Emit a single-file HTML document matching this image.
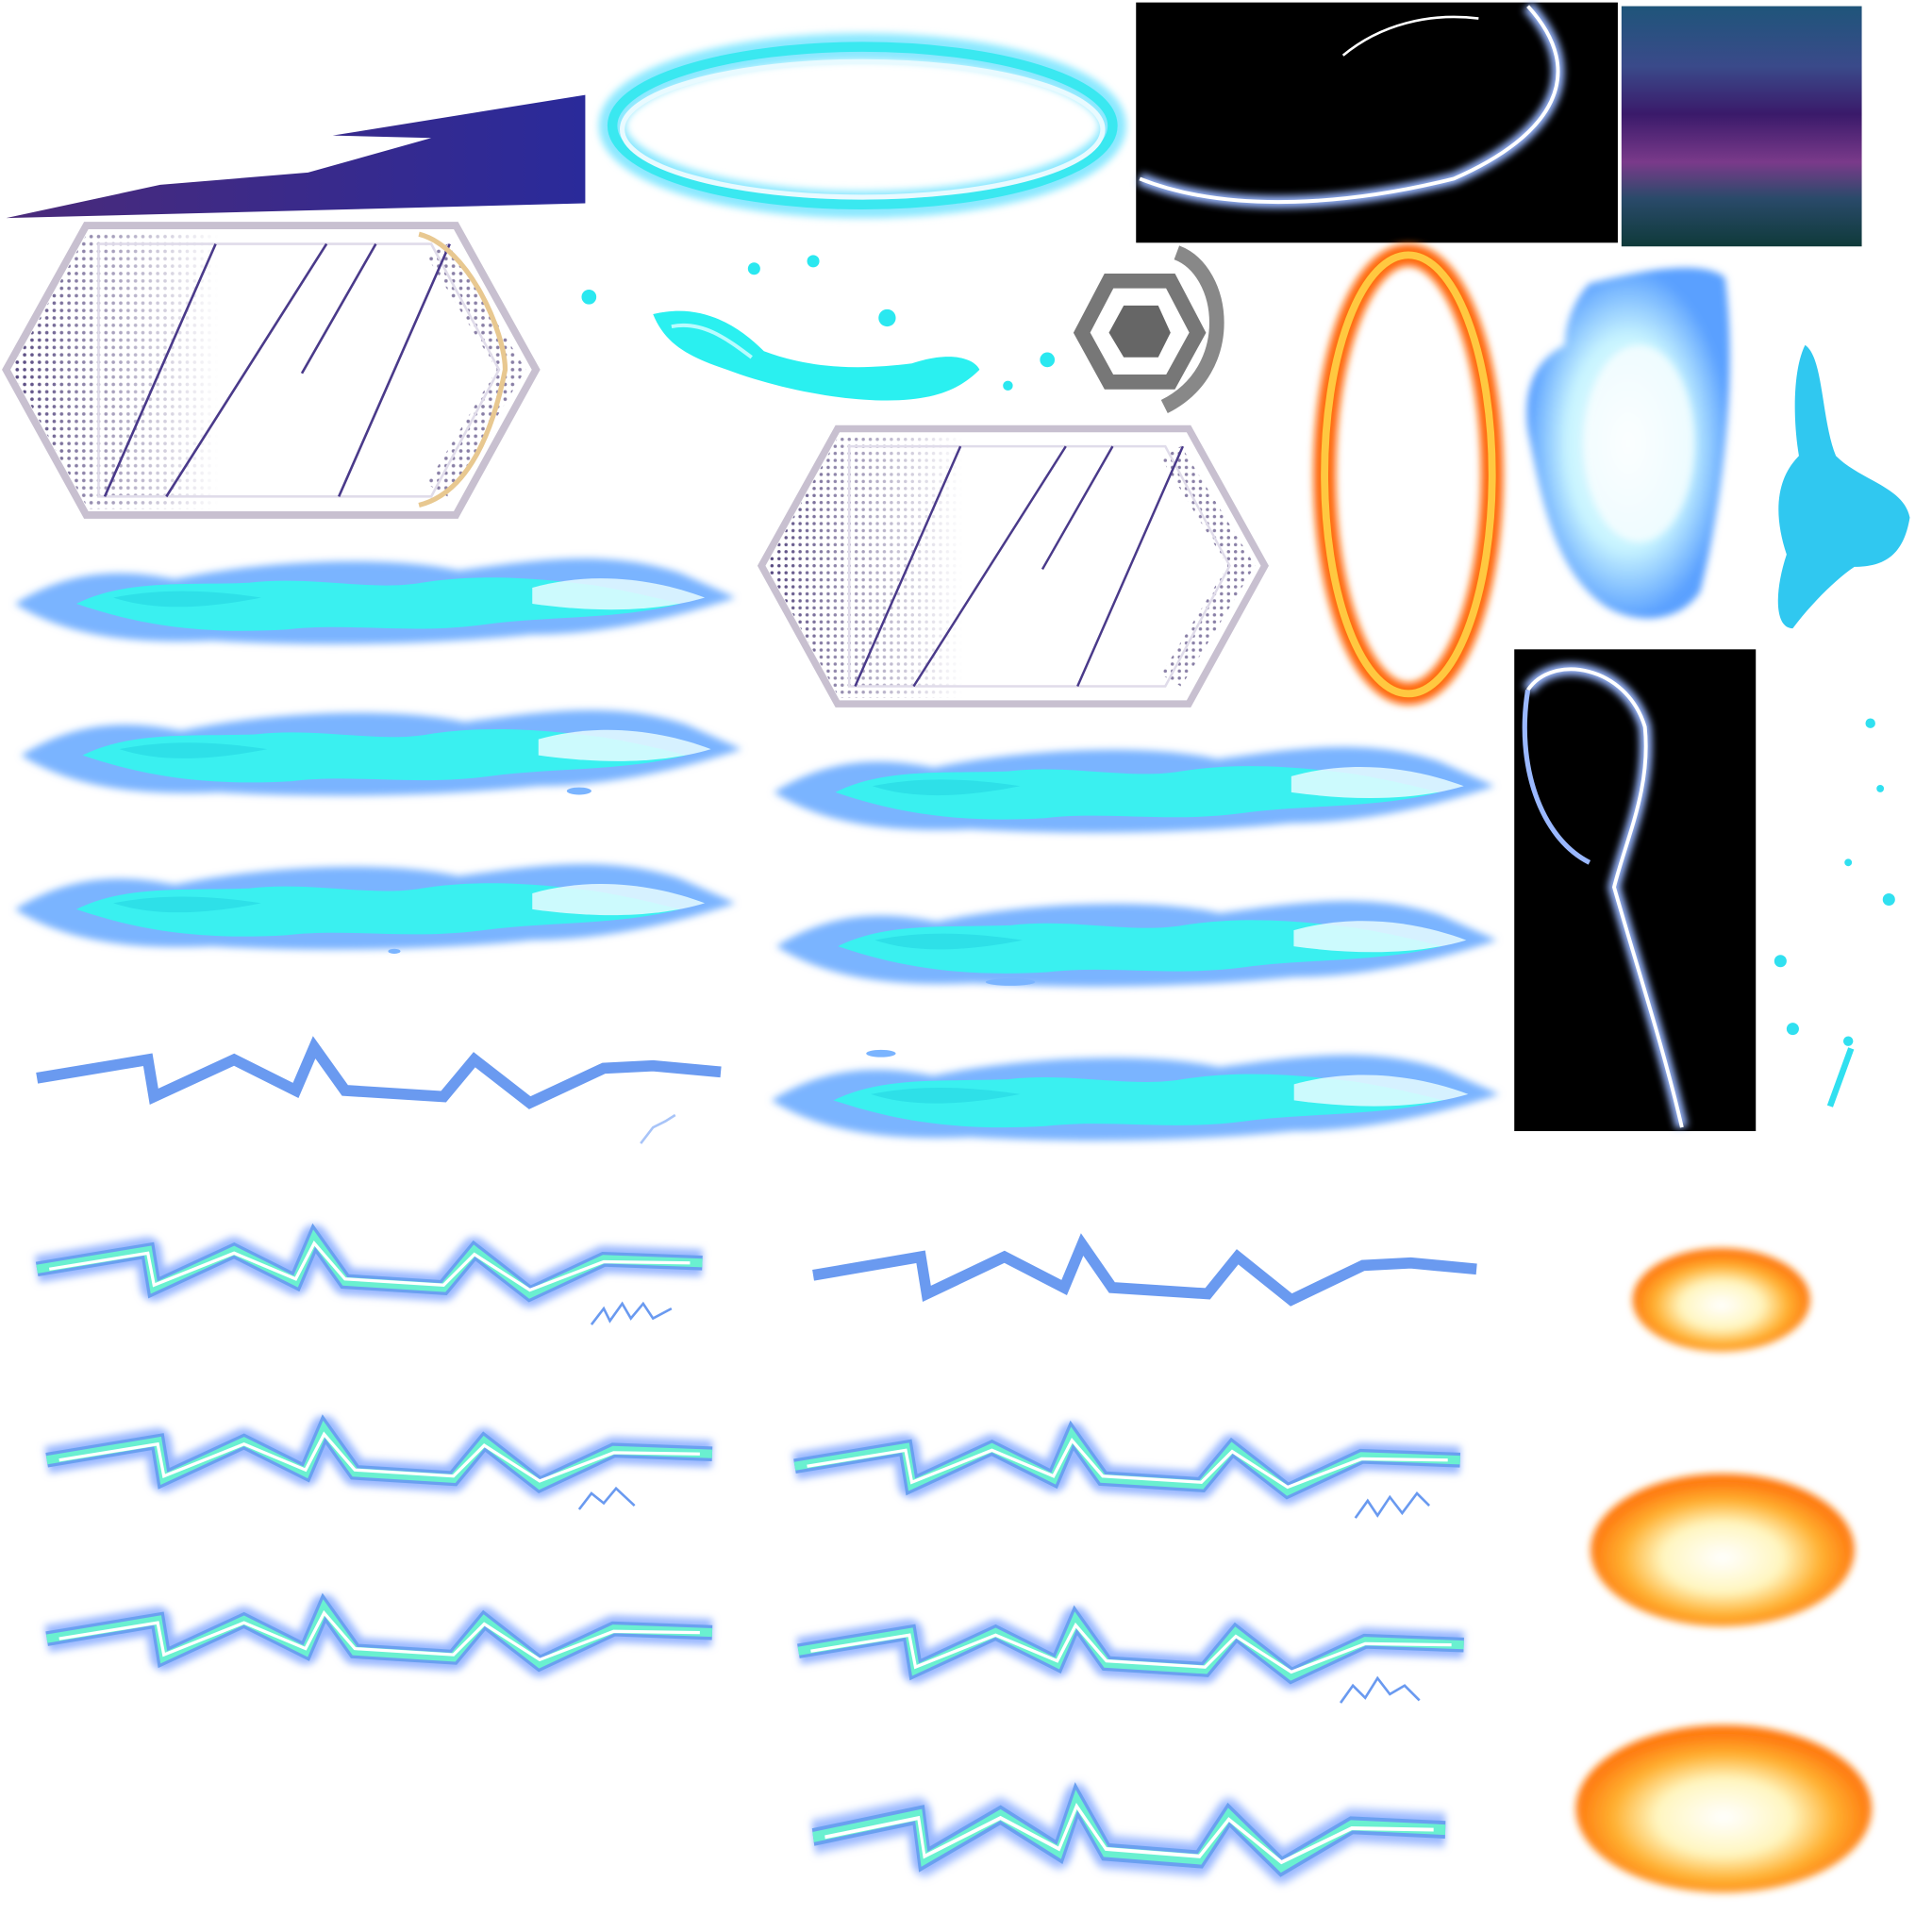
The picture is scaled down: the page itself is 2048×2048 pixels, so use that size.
<!DOCTYPE html>
<html><head><meta charset="utf-8"><style>
html,body{margin:0;padding:0;background:#fff;width:2048px;height:2048px;overflow:hidden}
svg{display:block}
</style></head><body>
<svg width="2048" height="2048" viewBox="0 0 1568 1568" xmlns="http://www.w3.org/2000/svg">
<defs>
<filter id="g" x="-20%" y="-50%" width="140%" height="200%"><feGaussianBlur stdDeviation="8"/></filter>
<filter id="g2" x="-20%" y="-50%" width="140%" height="200%"><feGaussianBlur stdDeviation="3"/></filter>
<linearGradient id="wedge" x1="0" x2="1"><stop offset="0" stop-color="#4a2a7a"/><stop offset="1" stop-color="#2a2a9a"/></linearGradient>
<linearGradient id="bands" x1="0" y1="0" x2="0" y2="1">
<stop offset="0" stop-color="#1f557a"/><stop offset="0.25" stop-color="#3a4a8a"/><stop offset="0.45" stop-color="#3a1a6a"/><stop offset="0.65" stop-color="#7a3a8a"/><stop offset="0.8" stop-color="#2a4a6a"/><stop offset="1" stop-color="#0f3a3a"/></linearGradient>
<radialGradient id="fire" cx="0.5" cy="0.55" r="0.5"><stop offset="0" stop-color="#fff"/><stop offset="0.45" stop-color="#fff6c0"/><stop offset="0.75" stop-color="#ffb030"/><stop offset="1" stop-color="#ff7a10"/></radialGradient>
<radialGradient id="blob" cx="0.5" cy="0.5" r="0.5"><stop offset="0" stop-color="#f4ffff"/><stop offset="0.6" stop-color="#c8f4ff"/><stop offset="1" stop-color="#5aa0ff"/></radialGradient>
<pattern id="dots" width="6" height="6" patternUnits="userSpaceOnUse"><circle cx="3" cy="3" r="1.4" fill="#3a2a6a"/></pattern>
<linearGradient id="dfade" x1="0" x2="1"><stop offset="0" stop-color="#fff" stop-opacity="0.9"/><stop offset="0.4" stop-color="#fff" stop-opacity="0"/></linearGradient>
<mask id="dm"><rect x="0" y="0" width="430" height="235" fill="url(#dfade)"/></mask>
<clipPath id="hc"><polygon points="4,117 67,4 363,4 426,117 363,231 67,231"/></clipPath>
<g id="band">
<path d="M0,45 C40,20 80,15 130,25 C200,10 300,5 360,18 C420,10 480,0 540,20 L585,40 C540,55 480,70 420,70 C340,78 250,80 160,75 C90,78 40,70 0,45Z" fill="#7ab4ff" filter="url(#g2)"/>
<path d="M50,45 C90,25 140,30 190,28 C240,22 290,35 330,28 C380,20 430,25 470,30 C500,35 520,40 540,45 C490,58 430,55 380,62 C320,70 270,60 220,66 C150,70 100,62 50,45Z" fill="#3af0f0"/>
<path d="M80,40 C120,32 160,34 200,40 C150,50 110,50 80,40Z" fill="#2ee0e8"/>
<path d="M420,32 C470,18 520,25 560,40 C520,52 470,52 420,45Z" fill="#e6fbff" opacity="0.85"/>
</g>
<g id="zig">
<path d="M0,30 L90,15 L95,45 L160,15 L210,40 L225,5 L250,40 L330,45 L355,15 L400,50 L460,22 L500,20 L555,25" fill="none" stroke="#6a9af0" stroke-width="9" stroke-linejoin="miter"/>
</g>
<g id="zigL">
<path d="M0,30 L90,15 L95,45 L160,15 L210,40 L225,5 L250,40 L330,45 L355,15 L400,50 L460,22 L540,25" fill="none" stroke="#9ab8ff" stroke-width="22" stroke-linejoin="round" filter="url(#g2)"/>
<path d="M0,30 L90,15 L95,45 L160,15 L210,40 L225,5 L250,40 L330,45 L355,15 L400,50 L460,22 L540,25" fill="none" stroke="#6aa0f0" stroke-width="12" stroke-linejoin="miter"/>
<path d="M0,30 L90,15 L95,45 L160,15 L210,40 L225,5 L250,40 L330,45 L355,15 L400,50 L460,22 L540,25" fill="none" stroke="#6af0d0" stroke-width="7" stroke-linejoin="miter"/>
<path d="M10,30 L90,17 L95,43 L160,17 L210,38 L225,9 L250,38 L330,43 L355,18 L400,47 L460,24 L530,25" fill="none" stroke="#fff" stroke-width="2.5"/>
</g>
<g id="hex">
<polygon points="0,117 65,0 365,0 430,117 365,235 65,235" fill="#fff" stroke="#c8c0d0" stroke-width="6"/>
<g clip-path="url(#hc)">
<rect x="5" y="5" width="420" height="225" fill="url(#dots)" mask="url(#dm)"/>
<path d="M350,20 L410,117 L350,215" fill="none" stroke="url(#dots)" stroke-width="20" opacity="0.6"/>
</g>
<polygon points="75,15 345,15 400,117 345,220 75,220" fill="none" stroke="#e0dcea" stroke-width="2"/>
<path d="M80,220 L170,15 M130,220 L260,15 M270,220 L360,15 M240,120 L300,15" stroke="#4a3a8a" stroke-width="2"/>
</g>
</defs>

<polygon points="5,177 130,150 250,140 350,112 270,110 475,77 475,165" fill="url(#wedge)"/>

<ellipse cx="700" cy="102" rx="203" ry="64" fill="none" stroke="#8ae8ff" stroke-width="22" filter="url(#g2)"/>
<ellipse cx="700" cy="102" rx="203" ry="64" fill="none" stroke="#3ae8f0" stroke-width="8"/>
<ellipse cx="700" cy="105" rx="195" ry="55" fill="none" stroke="#e8faff" stroke-width="4"/>

<rect x="922" y="2" width="391" height="195" fill="#000"/>
<path d="M925,145 C1000,175 1100,165 1180,145 C1260,110 1290,60 1240,5" fill="none" stroke="#9ab8ff" stroke-width="10" filter="url(#g2)"/>
<path d="M925,145 C1000,175 1100,165 1180,145 C1260,110 1290,60 1240,5" fill="none" stroke="#fff" stroke-width="3"/>
<path d="M1090,45 C1120,20 1160,10 1200,15" fill="none" stroke="#fff" stroke-width="2"/>

<rect x="1316" y="5" width="195" height="195" fill="url(#bands)"/>

<g transform="translate(5,183)"><use href="#hex"/></g>
<path d="M340,190 C380,200 410,270 410,300 C400,350 380,400 340,410" fill="none" stroke="#e8c890" stroke-width="4"/>
<g transform="translate(618,348) scale(0.95,0.95)"><use href="#hex"/></g>

<path d="M530,255 C570,245 600,265 620,285 C660,300 700,300 740,295 C770,285 790,290 795,300 C780,315 760,325 720,325 C680,325 630,315 590,300 C560,290 540,280 530,255Z" fill="#2af0f0"/>
<path d="M545,265 C570,260 590,275 610,290" fill="none" stroke="#b8fcff" stroke-width="3"/>
<circle cx="478" cy="241" r="6" fill="#2ae8f0"/><circle cx="720" cy="258" r="7" fill="#2ae8f0"/><circle cx="660" cy="212" r="5" fill="#2ae8f0"/><circle cx="612" cy="218" r="5" fill="#2ae8f0"/><circle cx="850" cy="292" r="6" fill="#2ae8f0"/><circle cx="818" cy="313" r="4" fill="#2ae8f0"/>

<polygon points="878,270 900,228 950,228 972,270 950,310 900,310" fill="none" stroke="#777" stroke-width="12"/>
<polygon points="900,270 912,248 940,248 950,270 940,290 912,290" fill="#666"/>
<path d="M955,205 C995,220 1005,300 945,330" fill="none" stroke="#888" stroke-width="12"/>

<ellipse cx="1143" cy="385" rx="68" ry="178" fill="none" stroke="#ff6a10" stroke-width="18" filter="url(#g2)"/>
<ellipse cx="1143" cy="385" rx="68" ry="178" fill="none" stroke="#ffc840" stroke-width="6"/>

<path d="M1290,230 C1330,220 1380,210 1400,225 C1410,300 1400,400 1380,480 C1360,510 1320,505 1300,490 C1260,460 1250,400 1240,350 C1235,310 1250,290 1270,280 C1270,260 1280,240 1290,230Z" fill="url(#blob)" filter="url(#g2)"/>
<ellipse cx="1330" cy="360" rx="45" ry="80" fill="#fff" opacity="0.7" filter="url(#g2)"/>

<path d="M1465,280 C1480,290 1478,340 1490,370 C1510,390 1545,395 1550,420 C1545,450 1530,460 1505,460 C1490,470 1470,490 1455,510 C1440,510 1440,480 1450,450 C1440,420 1440,390 1460,370 C1455,340 1455,300 1465,280Z" fill="#30c8f0"/>

<rect x="1229" y="527" width="196" height="391" fill="#000"/>
<path d="M1240,560 C1260,530 1320,540 1335,590 C1340,640 1320,680 1310,720 C1330,790 1350,850 1365,915" fill="none" stroke="#9ab8ff" stroke-width="10" filter="url(#g2)"/>
<path d="M1240,560 C1260,530 1320,540 1335,590 C1340,640 1320,680 1310,720 C1330,790 1350,850 1365,915" fill="none" stroke="#fff" stroke-width="3"/>
<path d="M1240,560 C1230,620 1250,680 1290,700" fill="none" stroke="#9ab8ff" stroke-width="4"/>

<g fill="#30e0f0"><circle cx="1518" cy="587" r="4"/><circle cx="1526" cy="640" r="3"/><circle cx="1500" cy="700" r="3"/><circle cx="1533" cy="730" r="5"/><circle cx="1445" cy="780" r="5"/><circle cx="1455" cy="835" r="5"/><circle cx="1500" cy="845" r="4"/><rect x="1500" y="850" width="5" height="50" transform="rotate(20 1500 850)"/></g>

<g transform="translate(12,445)"><use href="#band"/></g>
<g transform="translate(17,568)"><use href="#band"/></g>
<g transform="translate(12,693)"><use href="#band"/></g>
<g transform="translate(628,598)"><use href="#band"/></g>
<g transform="translate(630,723)"><use href="#band"/></g>
<g transform="translate(626,848) scale(1.01,1)"><use href="#band"/></g>
<g fill="#7ab4ff"><ellipse cx="470" cy="642" rx="10" ry="3"/><ellipse cx="320" cy="772" rx="5" ry="2"/><ellipse cx="820" cy="797" rx="20" ry="3"/><ellipse cx="715" cy="855" rx="12" ry="3"/></g>

<g transform="translate(30,845)"><use href="#zig"/></g>
<g transform="translate(30,1000)"><use href="#zigL"/></g>
<g transform="translate(38,1155)"><use href="#zigL"/></g>
<g transform="translate(38,1300)"><use href="#zigL"/></g>
<g transform="translate(660,1005) scale(0.97,1)"><use href="#zig"/></g>
<g transform="translate(645,1160)"><use href="#zigL"/></g>
<g transform="translate(648,1310)"><use href="#zigL"/></g>
<g transform="translate(660,1455) scale(0.95,1.2)"><use href="#zigL"/></g>
<g fill="none" stroke="#6a9af0" stroke-width="2">
<path d="M480,1075 L490,1062 L495,1072 L505,1058 L512,1070 L522,1058 L530,1070 L545,1062"/>
<path d="M470,1225 L480,1212 L490,1220 L500,1208 L515,1222"/>
<path d="M1100,1232 L1110,1218 L1118,1230 L1128,1215 L1138,1228 L1150,1212 L1160,1222"/>
<path d="M1088,1382 L1098,1368 L1108,1378 L1118,1362 L1128,1375 L1140,1368 L1152,1380"/>
<path d="M520,928 L530,915 L540,910 L548,905" stroke="#a8c4f8"/>
</g>

<ellipse cx="1397" cy="1055" rx="72" ry="42" fill="url(#fire)" filter="url(#g2)"/>
<ellipse cx="1398" cy="1258" rx="107" ry="62" fill="url(#fire)" filter="url(#g2)"/>
<ellipse cx="1399" cy="1468" rx="120" ry="68" fill="url(#fire)" filter="url(#g2)"/>
</svg>
</body></html>
